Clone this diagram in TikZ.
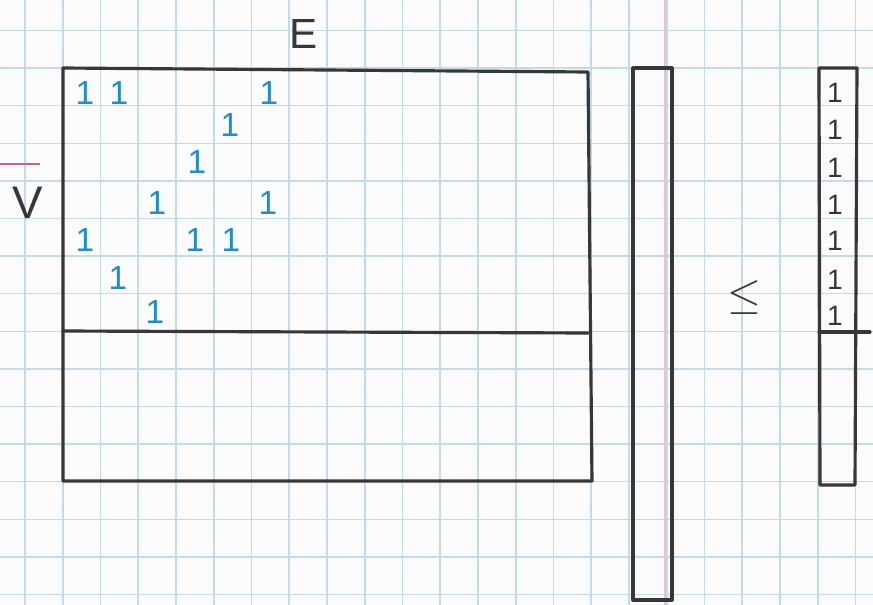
\documentclass[tikz,border=0pt]{standalone}
\usepackage{amsmath,amssymb}
\usepackage{tikz}
\usepackage{xcolor}
\usepackage{fontspec}
\setmainfont{Liberation Sans}
\definecolor{gridblue}{RGB}{194,218,238}
\definecolor{ink}{RGB}{55,55,55}
\definecolor{oneblue}{RGB}{30,140,210}
\definecolor{marginred}{RGB}{240,190,204}
\definecolor{barpink}{RGB}{196,96,176}

\begin{document}
\begin{tikzpicture}[x=0.02cm,y=-0.02cm,
  pen/.style={draw=ink,line width=1.8pt,line join=round,line cap=round},
  one/.style={text=oneblue,inner sep=0pt,font=\fontsize{19}{19}\selectfont}]
  \useasboundingbox (0,0) rectangle (873,605);
  \fill[white!97!gray] (0,0) rectangle (873,605);
  % squared paper
  \foreach \k in {0,...,22} \draw[gridblue,line width=0.9pt] (25+37.75*\k,0) -- (25+37.75*\k,605);
  \foreach \k in {0,...,15} \draw[gridblue,line width=0.9pt] (0,30.5+37.6*\k) -- (873,30.5+37.6*\k);
  \draw[marginred,line width=0.8pt] (665,0) -- (665,605);
  % matrix and the two columns
  \draw[pen] (63,68) -- (588,72) -- (592,481) -- (63,481) -- cycle; \draw[pen] (63,331) -- (588,333);
  \draw[pen] (633,68) -- (672,68) -- (672,600) -- (633,600) -- cycle;
  \draw[pen] (819,68) -- (857,68) -- (855,485) -- (820,485) -- cycle; \draw[pen] (819,332) -- (870,332);
  \node[text=ink,font=\fontsize{24}{24}\selectfont] (E) at (304,34) {E};
  \draw[barpink,line width=1.2pt] (0,164) -- (40,164);
  \node[text=ink,font=\fontsize{26}{26}\selectfont] (V) at (28,203) {V};
  \node[text=ink,font=\fontsize{26}{26}\selectfont] (le) at (744,298) {$\leq$};
  % entries
  \foreach \x/\y [count=\i] in {85/93,119/93,269/93,230/125,197/162,157/203,268/203,85/240,195/240,231/240,118/278,155/312}
    \node[one] (a\i) at (\x,\y) {1};
  \foreach \y [count=\i] in {93,130,168,205,241,280,316}
    \node[one,text=ink,font=\fontsize{16}{16}\selectfont] (b\i) at (835,\y) {1};
\end{tikzpicture}
\end{document}
